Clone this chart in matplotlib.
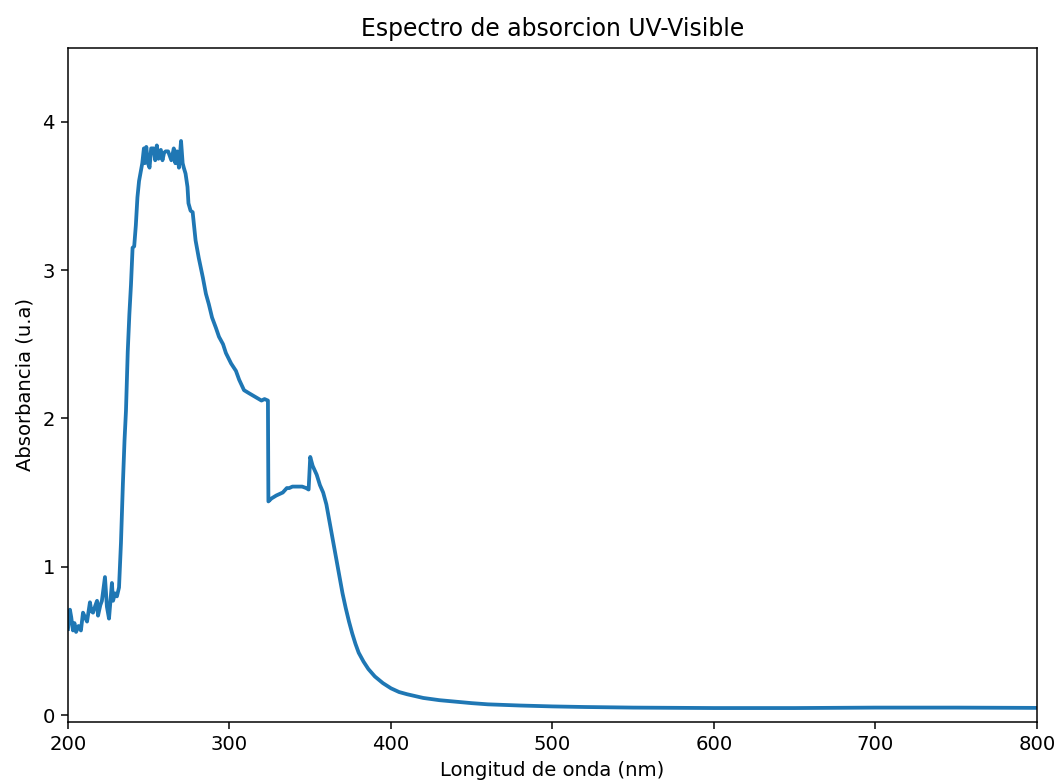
import numpy as np
import matplotlib
matplotlib.use("Agg")
import matplotlib.pyplot as plt

plt.rcParams["font.size"] = 10.4

# Spectrum (wavelength in nm, absorbance in u.a)
wavelength = [200, 201.2, 202, 203.1, 204, 205, 206.5, 208, 209.3, 210.5, 211.8,
              213.6, 214.5, 215.5, 217, 218, 218.6, 220, 221, 222.9, 224.1, 225.4,
              227.2, 227.9, 229.1, 230.3, 231.6, 232.8, 234, 235, 235.9, 237, 238,
              239, 240, 241, 242, 243, 244, 245, 246, 247, 247.5, 248.5, 249.5,
              250.5, 251.5, 253, 254, 255, 256, 257.5, 258.5, 259.5, 260.5, 262,
              264, 265.5, 266.5, 267.5, 268.7, 270, 271, 271.7, 272.8, 274, 274.6,
              275.9, 277.2, 279, 281, 283.5, 285.4, 287.2, 289.2, 291.6, 293.5, 296,
              297.8, 301, 304, 306, 309, 312, 316.7, 319.8, 321.7, 323.8, 324.1,
              326, 329, 331, 333, 335.5, 337, 339, 341.5, 343.5, 345, 347.5, 349,
              350, 351.5, 354, 356, 358, 360, 362, 364, 366, 368, 370, 372, 374,
              376, 378, 380, 383, 386, 390, 395, 400, 405, 410, 420, 430, 440, 450,
              460, 480, 500, 520, 550, 600, 650, 700, 750, 800]
absorbance = [0.58, 0.71, 0.66, 0.57, 0.62, 0.56, 0.60, 0.57, 0.69, 0.66, 0.63,
              0.76, 0.70, 0.69, 0.74, 0.77, 0.67, 0.74, 0.77, 0.93, 0.73, 0.65,
              0.89, 0.77, 0.82, 0.80, 0.86, 1.16, 1.56, 1.85, 2.05, 2.45, 2.70,
              2.90, 3.15, 3.16, 3.30, 3.49, 3.60, 3.66, 3.72, 3.82, 3.72, 3.83, 3.72,
              3.69, 3.82, 3.82, 3.74, 3.84, 3.75, 3.81, 3.74, 3.79, 3.80, 3.80,
              3.74, 3.82, 3.72, 3.80, 3.69, 3.87, 3.72, 3.69, 3.65, 3.56, 3.45,
              3.40, 3.39, 3.20, 3.08, 2.95, 2.84, 2.77, 2.68, 2.61, 2.55, 2.50,
              2.44, 2.37, 2.32, 2.26, 2.19, 2.17, 2.14, 2.12, 2.13, 2.12, 1.44,
              1.46, 1.48, 1.49, 1.50, 1.53, 1.53, 1.54, 1.54, 1.54, 1.54, 1.53, 1.52,
              1.74, 1.68, 1.62, 1.55, 1.50, 1.42, 1.30, 1.18, 1.06, 0.94, 0.82, 0.72, 0.63,
              0.55, 0.48, 0.42, 0.36, 0.31, 0.26, 0.215, 0.18, 0.155, 0.14, 0.115, 0.10,
              0.09, 0.08, 0.072, 0.064, 0.058, 0.054, 0.05, 0.047, 0.047, 0.05, 0.05,
              0.048]

fig = plt.figure(figsize=(1059 / 136, 783 / 136), dpi=136)
ax = fig.add_axes([0.0642, 0.0783, 0.915, 0.861])

ax.plot(wavelength, absorbance, color="#1f77b4", linewidth=2)

ax.set_xlim(200, 800)
ax.set_ylim(-0.045, 4.5)
ax.set_xticks([200, 300, 400, 500, 600, 700, 800])
ax.set_yticks([0, 1, 2, 3, 4])

ax.set_title("Espectro de absorcion UV-Visible")
ax.set_xlabel("Longitud de onda (nm)")
ax.set_ylabel("Absorbancia (u.a)")

fig.savefig("out.png", dpi=136)
